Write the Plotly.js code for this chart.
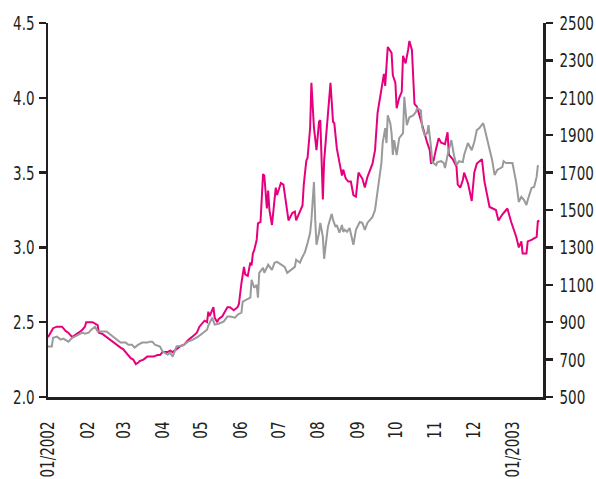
<!DOCTYPE html>
<html>
<head>
<meta charset="utf-8">
<script src="https://cdn.plot.ly/plotly-3.0.1.min.js"></script>
<style>html,body{margin:0;padding:0;background:#fff;}#chart{width:596px;height:479px;}</style>
</head>
<body>
<div id="chart"></div>
<script>
// Magenta series (left axis)
const magentaDates = [
"2002-01-01","2002-01-03","2002-01-05","2002-01-08","2002-01-12","2002-01-15","2002-01-17","2002-01-20","2002-01-22","2002-01-25",
"2002-01-28","2002-01-30","2002-01-31","2002-02-03","2002-02-05","2002-02-09","2002-02-10","2002-02-13","2002-02-16","2002-02-19",
"2002-02-21","2002-02-24","2002-02-27","2002-03-01","2002-03-03","2002-03-07","2002-03-09","2002-03-11","2002-03-13","2002-03-14",
"2002-03-17","2002-03-20","2002-03-22","2002-03-25","2002-03-28","2002-03-30","2002-04-01","2002-04-05","2002-04-07","2002-04-09",
"2002-04-12","2002-04-15","2002-04-18","2002-04-21","2002-04-24","2002-04-28","2002-04-30","2002-05-03","2002-05-04","2002-05-06",
"2002-05-07","2002-05-08","2002-05-11","2002-05-12","2002-05-14","2002-05-15","2002-05-18","2002-05-20","2002-05-22","2002-05-24",
"2002-05-27","2002-05-30","2002-05-31","2002-06-02","2002-06-04","2002-06-05","2002-06-07","2002-06-09","2002-06-10","2002-06-11",
"2002-06-12","2002-06-14","2002-06-15","2002-06-17","2002-06-19","2002-06-20","2002-06-21","2002-06-22","2002-06-23","2002-06-24",
"2002-06-26","2002-06-27","2002-06-29","2002-06-30","2002-07-03","2002-07-05","2002-07-07","2002-07-09","2002-07-12","2002-07-14",
"2002-07-15","2002-07-18","2002-07-20","2002-07-21","2002-07-23","2002-07-24","2002-07-26","2002-07-27","2002-07-29","2002-07-31",
"2002-08-02","2002-08-03","2002-08-05","2002-08-06","2002-08-09","2002-08-11","2002-08-13","2002-08-14","2002-08-16","2002-08-18",
"2002-08-20","2002-08-21","2002-08-23","2002-08-25","2002-08-27","2002-08-29","2002-08-31","2002-09-02","2002-09-05","2002-09-07",
"2002-09-09","2002-09-13","2002-09-15","2002-09-17","2002-09-20","2002-09-22","2002-09-23","2002-09-25","2002-09-28","2002-09-29",
"2002-10-01","2002-10-02","2002-10-04","2002-10-06","2002-10-07","2002-10-09","2002-10-11","2002-10-12","2002-10-14","2002-10-16",
"2002-10-18","2002-10-22","2002-10-24","2002-10-26","2002-10-28","2002-10-29","2002-10-31","2002-11-02","2002-11-04","2002-11-06",
"2002-11-08","2002-11-09","2002-11-11","2002-11-12","2002-11-15","2002-11-18","2002-11-19","2002-11-21","2002-11-23","2002-11-24",
"2002-11-27","2002-11-30","2002-12-02","2002-12-04","2002-12-08","2002-12-10","2002-12-14","2002-12-17","2002-12-19","2002-12-21",
"2002-12-24","2002-12-28","2002-12-31","2003-01-04","2003-01-06","2003-01-08","2003-01-09","2003-01-12","2003-01-13","2003-01-16",
"2003-01-18","2003-01-20","2003-01-21","2003-01-22"
];
const magentaValues = [
2.40,2.43,2.46,2.47,2.47,2.44,2.43,2.40,2.41,2.43,
2.45,2.47,2.50,2.50,2.50,2.48,2.43,2.42,2.40,2.38,
2.37,2.35,2.33,2.32,2.30,2.26,2.25,2.22,2.23,2.24,
2.25,2.27,2.27,2.27,2.28,2.28,2.30,2.30,2.31,2.30,
2.32,2.34,2.35,2.38,2.40,2.43,2.47,2.50,2.51,2.50,
2.57,2.54,2.60,2.53,2.50,2.52,2.54,2.57,2.60,2.60,
2.58,2.60,2.62,2.76,2.87,2.82,2.81,2.90,2.88,2.96,
2.98,3.05,3.16,3.17,3.49,3.48,3.35,3.26,3.38,3.25,
3.15,3.25,3.40,3.35,3.43,3.42,3.30,3.18,3.23,3.24,
3.18,3.24,3.28,3.42,3.58,3.60,3.80,4.10,3.80,3.65,
3.84,3.85,3.32,3.58,3.90,4.10,3.84,3.83,3.66,3.56,
3.48,3.52,3.46,3.44,3.44,3.35,3.34,3.50,3.46,3.40,
3.47,3.56,3.65,3.90,4.05,4.16,4.08,4.34,4.30,4.15,
4.10,3.93,4.00,4.04,4.28,4.23,4.32,4.38,4.32,3.96,
3.94,3.83,3.76,3.70,3.65,3.56,3.58,3.66,3.73,3.70,
3.69,3.69,3.77,3.62,3.59,3.54,3.42,3.40,3.45,3.50,
3.43,3.31,3.50,3.56,3.59,3.44,3.27,3.26,3.25,3.18,
3.22,3.26,3.17,3.07,3.00,3.04,2.96,2.96,3.04,3.05,
3.06,3.07,3.18,3.17
];

// Grey series (right axis)
const greyDates = [
"2002-01-01","2002-01-04","2002-01-05","2002-01-08","2002-01-11","2002-01-13","2002-01-17","2002-01-20","2002-01-22","2002-01-25",
"2002-01-28","2002-01-30","2002-02-02","2002-02-04","2002-02-07","2002-02-09","2002-02-11","2002-02-16","2002-02-19","2002-02-21",
"2002-02-24","2002-02-27","2002-03-03","2002-03-05","2002-03-08","2002-03-10","2002-03-13","2002-03-16","2002-03-20","2002-03-22",
"2002-03-24","2002-03-26","2002-03-30","2002-04-01","2002-04-05","2002-04-07","2002-04-09","2002-04-12","2002-04-17","2002-04-21",
"2002-04-25","2002-04-29","2002-05-03","2002-05-06","2002-05-07","2002-05-10","2002-05-12","2002-05-15","2002-05-19","2002-05-22",
"2002-05-24","2002-05-28","2002-05-30","2002-06-02","2002-06-03","2002-06-06","2002-06-09","2002-06-10","2002-06-12","2002-06-14",
"2002-06-15","2002-06-16","2002-06-19","2002-06-20","2002-06-23","2002-06-26","2002-06-28","2002-06-30","2002-07-03","2002-07-06",
"2002-07-08","2002-07-11","2002-07-14","2002-07-15","2002-07-18","2002-07-20","2002-07-22","2002-07-24","2002-07-26","2002-07-27",
"2002-07-29","2002-07-30","2002-07-31","2002-08-02","2002-08-03","2002-08-05","2002-08-06","2002-08-08","2002-08-09","2002-08-11",
"2002-08-12","2002-08-13","2002-08-15","2002-08-16","2002-08-18","2002-08-20","2002-08-21","2002-08-22","2002-08-24","2002-08-26",
"2002-08-29","2002-08-31","2002-09-03","2002-09-05","2002-09-07","2002-09-09","2002-09-13","2002-09-15","2002-09-17","2002-09-20",
"2002-09-21","2002-09-23","2002-09-24","2002-09-25","2002-09-27","2002-09-28","2002-09-29","2002-09-30","2002-10-02","2002-10-04",
"2002-10-07","2002-10-08","2002-10-10","2002-10-12","2002-10-15","2002-10-17","2002-10-18","2002-10-21","2002-10-22","2002-10-24",
"2002-10-26","2002-10-27","2002-10-29","2002-10-30","2002-11-02","2002-11-03","2002-11-06","2002-11-08","2002-11-09","2002-11-11",
"2002-11-14","2002-11-16","2002-11-18","2002-11-20","2002-11-23","2002-11-24","2002-11-27","2002-11-30","2002-12-02","2002-12-04",
"2002-12-06","2002-12-09","2002-12-10","2002-12-13","2002-12-16","2002-12-18","2002-12-20","2002-12-24","2002-12-25","2002-12-27",
"2003-01-01","2003-01-04","2003-01-06","2003-01-08","2003-01-10","2003-01-12","2003-01-13","2003-01-16","2003-01-18","2003-01-20",
"2003-01-21"
];
const greyValues = [
770,770,817,823,807,812,796,817,823,834,
844,839,844,860,876,850,850,850,834,823,
807,791,791,780,780,764,780,791,791,796,
796,780,770,743,727,737,716,770,775,796,
807,823,844,860,882,924,887,892,903,930,
930,924,940,951,1010,1020,1031,1127,1084,1100,
1031,1164,1191,1164,1207,1180,1218,1223,1207,1196,
1164,1180,1196,1234,1218,1250,1276,1324,1378,1447,
1650,1447,1314,1378,1431,1356,1239,1356,1410,1458,
1479,1447,1410,1420,1378,1420,1383,1394,1383,1404,
1314,1394,1436,1431,1394,1431,1463,1500,1607,1751,
1858,1938,1858,2006,1964,1911,1794,1874,1794,1884,
1911,2105,1954,1996,2006,2023,2044,2033,1943,1900,
1911,1954,1837,1756,1740,1756,1761,1751,1724,1794,
1874,1794,1740,1761,1756,1794,1858,1820,1864,1927,
1938,1964,1938,1858,1767,1687,1714,1729,1761,1751,
1751,1645,1543,1570,1554,1527,1554,1618,1623,1677,
1740
];

// Axis tick labels
const xTickVals = ["2002-01-01","2002-02-01","2002-03-01","2002-04-01","2002-05-01","2002-06-01","2002-07-01","2002-08-01","2002-09-01","2002-10-01","2002-11-01","2002-12-01","2003-01-01"];
const xTickText = ["01/2002","02","03","04","05","06","07","08","09","10","11","12","01/2003"];

const FONT = "'DejaVu Sans Condensed', 'Liberation Sans Narrow', sans-serif";
const AXC = "#231f20";

const traces = [
  {x: greyDates, y: greyValues, yaxis: "y2", type: "scatter", mode: "lines",
   line: {color: "#9a9a9a", width: 2}, hoverinfo: "skip"},
  {x: magentaDates, y: magentaValues, yaxis: "y", type: "scatter", mode: "lines",
   line: {color: "#e6007e", width: 2}, hoverinfo: "skip"}
];

const layout = {
  width: 596, height: 479,
  margin: {l: 48, r: 53, t: 23, b: 82, pad: 0},
  paper_bgcolor: "#fff", plot_bgcolor: "#fff",
  showlegend: false,
  font: {family: FONT, size: 20, color: AXC},
  xaxis: {
    type: "date", range: ["2002-01-01", "2003-01-25"],
    tickvals: xTickVals, ticktext: xTickText, tickangle: -90,
    ticks: "", showgrid: false, zeroline: false,
    showline: true, linecolor: AXC, linewidth: 2.5,
    ticklabelstandoff: 14,
    tickfont: {family: FONT, size: 20, color: AXC}
  },
  yaxis: {
    range: [2.0, 4.5], dtick: 0.5, tick0: 2.0, tickformat: ".1f",
    ticks: "outside", ticklen: 7, tickwidth: 2.5, tickcolor: AXC,
    showgrid: false, zeroline: false,
    showline: true, linecolor: AXC, linewidth: 2.5,
    ticklabelstandoff: 0,
    tickfont: {family: FONT, size: 20, color: AXC}
  },
  yaxis2: {
    range: [500, 2500], dtick: 200, tick0: 500,
    overlaying: "y", side: "right",
    ticks: "outside", ticklen: 7, tickwidth: 2.5, tickcolor: AXC,
    showgrid: false, zeroline: false,
    showline: true, linecolor: AXC, linewidth: 2.5,
    ticklabelstandoff: 3,
    tickfont: {family: FONT, size: 20, color: AXC}
  }
};

function condenseLabels(gd) {
  // condense the tick labels horizontally (around their anchor point), like the narrow face of the original
  gd.querySelectorAll("g.xtick text, g.ytick text, g.y2tick text").forEach(function (t) {
    if (t.dataset.origTf === undefined) t.dataset.origTf = t.getAttribute("transform") || "";
    const ax = parseFloat(t.getAttribute("x")) || 0;
    const ay = parseFloat(t.getAttribute("y")) || 0;
    t.setAttribute("transform", t.dataset.origTf +
      " translate(" + ax + "," + ay + ") scale(0.75,1) translate(" + (-ax) + "," + (-ay) + ")");
  });
}

Plotly.newPlot("chart", traces, layout, {displayModeBar: false, staticPlot: true}).then(function (gd) {
  condenseLabels(gd);
});
</script>
</body>
</html>
